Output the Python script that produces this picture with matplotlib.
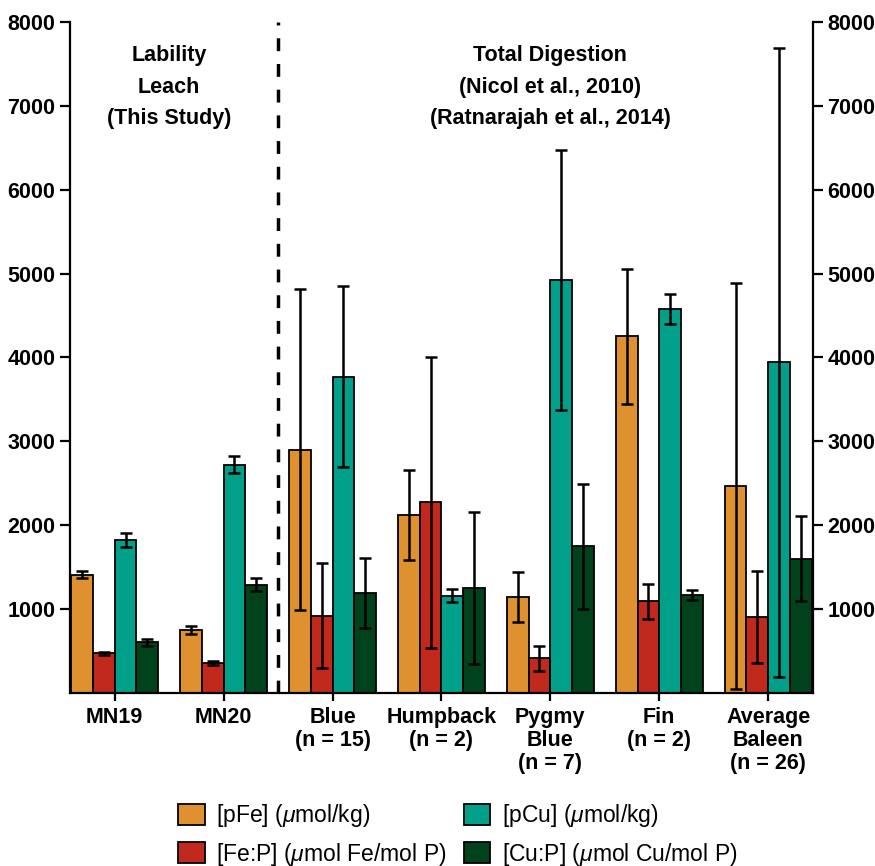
import numpy as np
import matplotlib
matplotlib.use("Agg")
import matplotlib.pyplot as plt
from matplotlib.patches import Patch

plt.rcParams['font.family'] = ['Liberation Sans', 'DejaVu Sans']
plt.rcParams['mathtext.fontset'] = 'custom'
plt.rcParams['mathtext.it'] = 'Liberation Sans:italic'
plt.rcParams['mathtext.rm'] = 'Liberation Sans'

# data
groups = ['MN19', 'MN20', 'Blue\n(n = 15)', 'Humpback\n(n = 2)', 'Pygmy\nBlue\n(n = 7)',
          'Fin\n(n = 2)', 'Average\nBaleen\n(n = 26)']
pFe = [1410, 750, 2900, 2120, 1140, 4250, 2470]
pFe_err = [40, 50, 1910, 535, 300, 810, 2420]
FeP = [470, 360, 920, 2270, 410, 1090, 900]
FeP_err = [20, 25, 625, 1740, 150, 210, 550]
pCu = [1820, 2720, 3770, 1160, 4920, 4580, 3940]
pCu_err = [80, 100, 1080, 80, 1550, 180, 3750]
CuP = [600, 1290, 1190, 1250, 1750, 1170, 1600]
CuP_err = [40, 80, 415, 905, 745, 60, 505]

series = [pFe, FeP, pCu, CuP]
errors = [pFe_err, FeP_err, pCu_err, CuP_err]
colors = ['#E0912F', '#C0291C', '#00A08A', '#00421C']
labels = [r'[pFe] ($\mu$mol/kg)', r'[Fe:P] ($\mu$mol Fe/mol P)',
          r'[pCu] ($\mu$mol/kg)', r'[Cu:P] ($\mu$mol Cu/mol P)']

fig = plt.figure(figsize=(8.75, 8.66), dpi=100)
ax = fig.add_axes([0.08, 0.2, 0.849, 0.7746])

x = np.arange(len(groups))
w = 0.2
for i, (vals, errs) in enumerate(zip(series, errors)):
    ax.bar(x + (i - 1.5) * w, vals, w, color=colors[i], edgecolor='black', linewidth=1.3,
           yerr=errs, error_kw=dict(ecolor='black', elinewidth=1.8, capsize=4.5, capthick=1.8),
           zorder=2)

ax.axvline(1.5, color='black', linestyle=(0, (3.7, 3.7)), linewidth=2.5, zorder=3)

ax.set_xlim(-0.41, 6.41)
ax.set_ylim(0, 8000)
ax.set_yticks(np.arange(1000, 8001, 1000))
ax.set_xticks(x)
ax.set_xticklabels(groups, fontsize=15.5, fontweight='bold', linespacing=1.15)
ax.tick_params(axis='y', labelsize=15.5, length=7, width=1.6,
               right=True, labelright=True, direction='out')
ax.tick_params(axis='x', length=6, width=1.6, pad=4)
for t in ax.yaxis.get_major_ticks():
    t.label1.set_fontweight('bold')
    t.label2.set_fontweight('bold')

ax.spines['top'].set_visible(False)
for s in ['left', 'right', 'bottom']:
    ax.spines[s].set_linewidth(1.6)

ax.text(0.5, 7220, 'Lability\nLeach\n(This Study)', ha='center', va='center',
        fontsize=15.5, fontweight='bold', linespacing=1.65)
ax.text(4.0, 7220, 'Total Digestion\n(Nicol et al., 2010)\n(Ratnarajah et al., 2014)',
        ha='center', va='center', fontsize=15.5, fontweight='bold', linespacing=1.65)

handles = [Patch(facecolor=colors[i], edgecolor='black', linewidth=1.3) for i in [0, 1, 2, 3]]
leg = fig.legend(handles, labels, loc='center', bbox_to_anchor=(0.523, 0.036), ncol=2,
                 frameon=False, fontsize=16.5, handlelength=1.17, handleheight=1.0,
                 columnspacing=0.75, handletextpad=0.5, labelspacing=0.5)

fig.savefig('out.png', dpi=100)
